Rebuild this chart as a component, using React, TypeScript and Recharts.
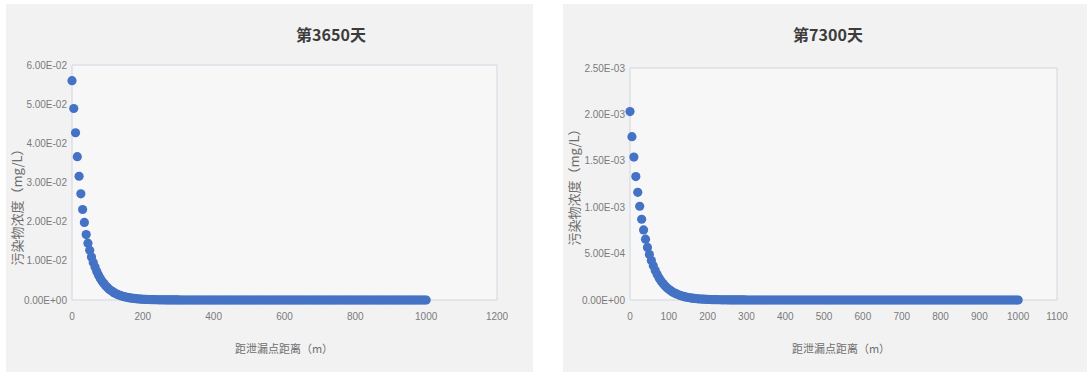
import React from 'react';
import { ScatterChart, Scatter, XAxis, YAxis, ReferenceArea } from 'recharts';

// distance from leak point (m), sampled every 5 m
const distances = [
  0, 5, 10, 15, 20, 25, 30, 35, 40, 45, 50, 55, 60, 65, 70, 75, 80, 85, 90, 95,
  100, 105, 110, 115, 120, 125, 130, 135, 140, 145, 150, 155, 160, 165, 170, 175, 180, 185, 190, 195,
  200, 205, 210, 215, 220, 225, 230, 235, 240, 245, 250, 255, 260, 265, 270, 275, 280, 285, 290, 295,
  300, 305, 310, 315, 320, 325, 330, 335, 340, 345, 350, 355, 360, 365, 370, 375, 380, 385, 390, 395,
  400, 405, 410, 415, 420, 425, 430, 435, 440, 445, 450, 455, 460, 465, 470, 475, 480, 485, 490, 495,
  500, 505, 510, 515, 520, 525, 530, 535, 540, 545, 550, 555, 560, 565, 570, 575, 580, 585, 590, 595,
  600, 605, 610, 615, 620, 625, 630, 635, 640, 645, 650, 655, 660, 665, 670, 675, 680, 685, 690, 695,
  700, 705, 710, 715, 720, 725, 730, 735, 740, 745, 750, 755, 760, 765, 770, 775, 780, 785, 790, 795,
  800, 805, 810, 815, 820, 825, 830, 835, 840, 845, 850, 855, 860, 865, 870, 875, 880, 885, 890, 895,
  900, 905, 910, 915, 920, 925, 930, 935, 940, 945, 950, 955, 960, 965, 970, 975, 980, 985, 990, 995,
  1000,
];

// beyond ~300 m both curves read as zero
const zeroTail = [
  0, 0, 0, 0, 0, 0, 0, 0, 0, 0, 0, 0, 0, 0, 0, 0, 0, 0, 0, 0,
  0, 0, 0, 0, 0, 0, 0, 0, 0, 0, 0, 0, 0, 0, 0, 0, 0, 0, 0, 0,
  0, 0, 0, 0, 0, 0, 0, 0, 0, 0, 0, 0, 0, 0, 0, 0, 0, 0, 0, 0,
  0, 0, 0, 0, 0, 0, 0, 0, 0, 0, 0, 0, 0, 0, 0, 0, 0, 0, 0, 0,
  0, 0, 0, 0, 0, 0, 0, 0, 0, 0, 0, 0, 0, 0, 0, 0, 0, 0, 0, 0,
  0, 0, 0, 0, 0, 0, 0, 0, 0, 0, 0, 0, 0, 0, 0, 0, 0, 0, 0, 0,
  0, 0, 0, 0, 0, 0, 0, 0, 0, 0, 0, 0, 0, 0, 0, 0, 0, 0, 0, 0,
];

// concentration (mg/L) on day 3650
const day3650 = [
  5.6e-2, 4.89e-2, 4.27e-2, 3.66e-2, 3.16e-2, 2.71e-2, 2.31e-2, 1.98e-2, 1.67e-2, 1.45e-2,
  1.27e-2, 1.1e-2, 9.6e-3, 8.4e-3, 7.3e-3, 6.35e-3, 5.5e-3, 4.8e-3, 4.2e-3, 3.65e-3,
  3.2e-3, 2.75e-3, 2.4e-3, 2.1e-3, 1.8e-3, 1.57e-3, 1.37e-3, 1.19e-3, 1.04e-3, 9e-4,
  7.8e-4, 6.8e-4, 5.9e-4, 5.2e-4, 4.5e-4, 3.9e-4, 3.4e-4, 3e-4, 2.6e-4, 2.2e-4,
  1.9e-4, 1.7e-4, 1.5e-4, 1.3e-4, 1.1e-4, 9.7e-5, 8.5e-5, 7.4e-5, 6.4e-5, 5.6e-5,
  4.9e-5, 4.3e-5, 3.7e-5, 3.2e-5, 2.8e-5, 2.4e-5, 2.1e-5, 1.8e-5, 1.6e-5, 1.4e-5,
  1.2e-5,
  ...zeroTail,
];

// concentration (mg/L) on day 7300
const day7300 = [
  2.03e-3, 1.76e-3, 1.54e-3, 1.33e-3, 1.16e-3, 1.01e-3, 8.7e-4, 7.55e-4, 6.55e-4, 5.67e-4,
  4.9e-4, 4.25e-4, 3.68e-4, 3.18e-4, 2.75e-4, 2.38e-4, 2.06e-4, 1.78e-4, 1.54e-4, 1.33e-4,
  1.15e-4, 1e-4, 8.6e-5, 7.5e-5, 6.5e-5, 5.6e-5, 4.8e-5, 4.2e-5, 3.6e-5, 3.1e-5,
  2.7e-5, 2.3e-5, 2e-5, 1.7e-5, 1.5e-5, 1.3e-5, 1.1e-5, 9.7e-6, 8.4e-6, 7.2e-6,
  6.3e-6, 5.4e-6, 4.7e-6, 4e-6, 3.5e-6, 3e-6, 2.6e-6, 2.3e-6, 2e-6, 1.7e-6,
  1.5e-6, 1.3e-6, 1.1e-6, 1e-6, 8e-7, 7e-7, 6e-7, 5e-7, 4e-7, 3e-7,
  2e-7,
  ...zeroTail,
];

const xTicks3650 = [0, 200, 400, 600, 800, 1000, 1200];
const yTicks3650 = [0, 0.01, 0.02, 0.03, 0.04, 0.05, 0.06];
const xTicks7300 = [0, 100, 200, 300, 400, 500, 600, 700, 800, 900, 1000, 1100];
const yTicks7300 = [0, 0.0005, 0.001, 0.0015, 0.002, 0.0025];

const TICK_FONT = "'Liberation Sans', Arial, sans-serif";
const CJK_FONT = "'Noto Sans CJK SC', 'Noto Sans', sans-serif";
const DOT = '#4472c4';
const BORDER = '#d0d6e0';

const toPoints = (values: number[]) =>
  distances.map((d, i) => ({ x: d, y: values[i] ?? 0 }));

const sci = (v: number) => {
  const [m, e] = v.toExponential(2).split('e');
  const n = parseInt(e, 10);
  return `${m}E${n < 0 ? '-' : '+'}${String(Math.abs(n)).padStart(2, '0')}`;
};

const dotShape = (p: any) => <circle cx={p.cx} cy={p.cy} r={4.6} fill={DOT} />;

interface PanelProps {
  left: number;
  width: number;
  yAxisWidth: number;
  marginTop: number;
  marginRight: number;
  values: number[];
  xTicks: number[];
  yTicks: number[];
}

function Panel({ left, width, yAxisWidth, marginTop, marginRight, values, xTicks, yTicks }: PanelProps) {
  const xMax = xTicks[xTicks.length - 1];
  const yMax = yTicks[yTicks.length - 1];
  const tick = { fontSize: 10, fill: '#7a7a7a', fontFamily: TICK_FONT };
  return (
    <div style={{ position: 'absolute', left, top: 4, width, height: 368, background: '#f3f2f2' }}>
      <ScatterChart width={width} height={368} margin={{ top: marginTop, right: marginRight, bottom: 0, left: 0 }}>
        <XAxis
          type="number"
          dataKey="x"
          domain={[0, xMax]}
          ticks={xTicks}
          height={72}
          axisLine={false}
          tickLine={false}
          tickSize={0}
          tickMargin={13}
          tick={tick}
          interval={0}
        />
        <YAxis
          type="number"
          dataKey="y"
          domain={[0, yMax]}
          ticks={yTicks}
          width={yAxisWidth}
          axisLine={false}
          tickLine={false}
          tickSize={0}
          tickMargin={5}
          tick={tick}
          tickFormatter={sci}
          interval={0}
        />
        <ReferenceArea x1={0} x2={xMax} y1={0} y2={yMax} fill="#f7f7f7" fillOpacity={1} stroke={BORDER} strokeWidth={1} />
        <Scatter data={toPoints(values)} fill={DOT} shape={dotShape} isAnimationActive={false} />
      </ScatterChart>
    </div>
  );
}

const textBase: React.CSSProperties = {
  position: 'absolute',
  whiteSpace: 'nowrap',
  fontFamily: CJK_FONT,
  transform: 'translate(-50%, -50%)',
};

function Title({ x, y, text }: { x: number; y: number; text: string }) {
  return <div style={{ ...textBase, left: x, top: y, fontSize: 16, fontWeight: 700, color: '#3c3c3c' }}>{text}</div>;
}

function XLabel({ x, y }: { x: number; y: number }) {
  return <div style={{ ...textBase, left: x, top: y, fontSize: 11, color: '#6e6e6e' }}>距泄漏点距离（m）</div>;
}

function YLabel({ x, y }: { x: number; y: number }) {
  return (
    <div style={{ ...textBase, left: x, top: y, fontSize: 13, color: '#6e6e6e', transform: 'translate(-50%, -50%) rotate(-90deg)' }}>
      污染物浓度（mg/L）
    </div>
  );
}

export default function App() {
  return (
    <div style={{ position: 'absolute', left: 0, top: 0, width: 1087, height: 378, background: '#ffffff', overflow: 'hidden' }}>
      <Panel left={6} width={527} yAxisWidth={66} marginTop={61} marginRight={36} values={day3650} xTicks={xTicks3650} yTicks={yTicks3650} />
      <Panel left={563} width={524} yAxisWidth={67} marginTop={64} marginRight={30} values={day7300} xTicks={xTicks7300} yTicks={yTicks7300} />
      <Title x={331} y={34} text="第3650天" />
      <Title x={828} y={34} text="第7300天" />
      <XLabel x={284} y={348} />
      <XLabel x={841} y={348} />
      <YLabel x={16} y={204} />
      <YLabel x={573} y={184} />
    </div>
  );
}
